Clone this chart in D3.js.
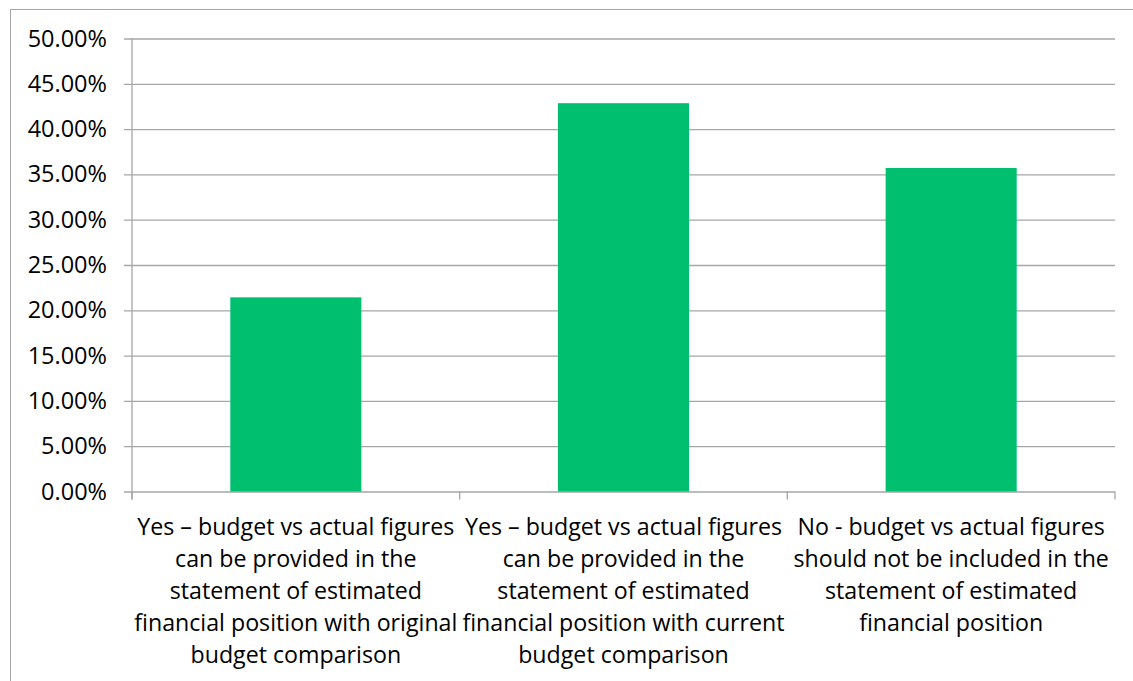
<!DOCTYPE html>
<html>
<head>
<meta charset="utf-8">
<script src="https://cdn.jsdelivr.net/npm/d3@7"></script>
<style>
  html, body { margin: 0; padding: 0; background: #fff; }
  svg { display: block; font-family: "Open Sans", Lato, "Liberation Sans", sans-serif; }
</style>
</head>
<body>
<svg id="chart" width="1133" height="681"></svg>
<script>
// Survey responses: share of respondents per option
const categories = [
  ["Yes \u2013 budget vs actual figures", "can be provided in the", "statement of estimated", "financial position with original", "budget comparison"],
  ["Yes \u2013 budget vs actual figures", "can be provided in the", "statement of estimated", "financial position with current", "budget comparison"],
  ["No - budget vs actual figures", "should not be included in the", "statement of estimated", "financial position"]
];
const shares = [0.2143, 0.4286, 0.3571];
const yTicks = [0, 0.05, 0.10, 0.15, 0.20, 0.25, 0.30, 0.35, 0.40, 0.45, 0.50];

const svg = d3.select("#chart");
const plot = { left: 132, right: 1115, top: 38.5, bottom: 491.5 };
const gridColor = "#a6a6a6";

// outer chart frame
svg.append("rect")
  .attr("x", 10.5).attr("y", 9.5)
  .attr("width", 1140).attr("height", 700)
  .attr("fill", "none").attr("stroke", "#a6a6a6").attr("stroke-width", 1);

const x = d3.scaleBand()
  .domain(d3.range(categories.length))
  .range([plot.left, plot.right])
  .paddingInner(0).paddingOuter(0);

const y = d3.scaleLinear()
  .domain([0, 0.5])
  .range([plot.bottom, plot.top]);

// horizontal gridlines with value labels
const yAxis = d3.axisLeft(y)
  .tickValues(yTicks)
  .tickSize(-(plot.right - plot.left) - 8)
  .tickPadding(17)
  .tickFormat(d3.format(".2%"));

const gy = svg.append("g")
  .attr("transform", `translate(${plot.right},0)`)
  .call(yAxis)
  .attr("font-family", null)
  .attr("font-size", null);
gy.select(".domain").remove();
gy.selectAll(".tick line")
  .attr("stroke", gridColor).attr("stroke-width", 1.3)
  .attr("x1", 0).attr("x2", -(plot.right - plot.left) - 8);
gy.selectAll(".tick text")
  .attr("x", -(plot.right - plot.left) - 8 - 17)
  .attr("fill", "#000")
  .style("font-size", "23.5px");

// vertical value axis line
svg.append("line")
  .attr("x1", plot.left).attr("x2", plot.left)
  .attr("y1", plot.top).attr("y2", plot.bottom + 8)
  .attr("stroke", gridColor).attr("stroke-width", 1.3);

// category boundary ticks below the baseline
const boundaries = d3.range(categories.length + 1).map(i => plot.left + i * x.bandwidth());
svg.selectAll("line.cat-tick")
  .data(boundaries)
  .join("line")
  .attr("class", "cat-tick")
  .attr("x1", d => d).attr("x2", d => d)
  .attr("y1", plot.bottom).attr("y2", plot.bottom + 8)
  .attr("stroke", gridColor).attr("stroke-width", 1.3);

// bars
const barW = x.bandwidth() * 0.4;
svg.selectAll("rect.bar")
  .data(shares)
  .join("rect")
  .attr("class", "bar")
  .attr("x", (d, i) => x(i) + (x.bandwidth() - barW) / 2)
  .attr("y", d => y(d))
  .attr("width", barW)
  .attr("height", d => y(0) - y(d))
  .attr("fill", "#00bf6f");

// category labels
const labels = svg.selectAll("text.cat")
  .data(categories)
  .join("text")
  .attr("class", "cat")
  .attr("text-anchor", "middle")
  .attr("fill", "#000")
  .style("font-size", "23.2px");
labels.selectAll("tspan")
  .data((d, i) => d.map(line => ({ line, i })))
  .join("tspan")
  .attr("x", d => x(d.i) + x.bandwidth() / 2)
  .attr("y", (d, j) => 535 + j * 32)
  .text(d => d.line);
</script>
</body>
</html>
